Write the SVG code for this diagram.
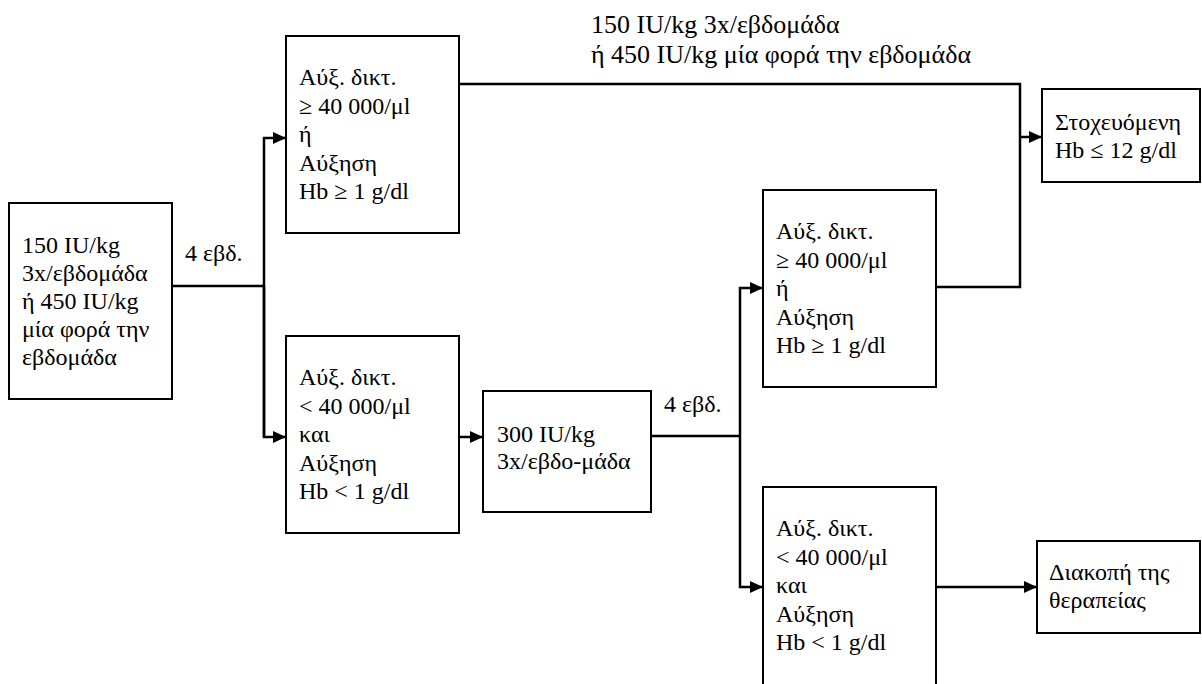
<svg xmlns="http://www.w3.org/2000/svg" width="1202" height="684" viewBox="0 0 1202 684">
<style>
.box{fill:#fff;stroke:#000;stroke-width:2}
.t{font-family:"Liberation Serif","Times New Roman",serif;font-size:24px;fill:#000}
.tt{font-family:"Liberation Serif","Times New Roman",serif;font-size:26px;fill:#000}
.c{fill:none;stroke:#000;stroke-width:2.5}
</style>
<defs>
<marker id="ah" viewBox="0 0 13 12" refX="13" refY="6" markerWidth="13" markerHeight="12" markerUnits="userSpaceOnUse" orient="auto">
<path d="M0,0 L13,6 L0,12 z" fill="#000"/>
</marker>
</defs>
<rect width="1202" height="684" fill="#fff"/>
<g id="connectors">
<polyline class="c" points="172,286 264,286"/>
<polyline class="c" points="264,437 264,138 286,138" marker-end="url(#ah)"/>
<polyline class="c" points="264,286 264,437 286,437" marker-end="url(#ah)"/>
<polyline class="c" points="459,437 483,437" marker-end="url(#ah)"/>
<polyline class="c" points="651,436 740,436"/>
<polyline class="c" points="740,436 740,288 763,288" marker-end="url(#ah)"/>
<polyline class="c" points="740,436 740,587 763,587" marker-end="url(#ah)"/>
<polyline class="c" points="936,587 1037,587" marker-end="url(#ah)"/>
<polyline class="c" points="459,84 1020,84 1020,287 936,287"/>
<polyline class="c" points="1020,137 1042,137" marker-end="url(#ah)"/>
<text class="t" x="185" y="261">4 εβδ.</text>
<text class="t" x="664" y="412">4 εβδ.</text>
<text class="tt" x="591" y="33">150 IU/kg 3x/εβδομάδα</text>
<text class="tt" x="591" y="63">ή 450 IU/kg μία φορά την εβδομάδα</text>
</g>
<g id="start">
<rect class="box" x="9" y="203" width="163" height="196"/>
<text class="t" x="22" y="253">150 IU/kg</text>
<text class="t" x="22" y="281">3x/εβδομάδα</text>
<text class="t" x="22" y="309">ή 450 IU/kg</text>
<text class="t" x="22" y="337">μία φορά την</text>
<text class="t" x="22" y="365">εβδομάδα</text>
</g>
<g id="resp1">
<rect class="box" x="286" y="36" width="173" height="197"/>
<text class="t" x="299" y="85">Αύξ. δικτ.</text>
<text class="t" x="299" y="113.5">≥ 40 000/μl</text>
<text class="t" x="299" y="142">ή</text>
<text class="t" x="299" y="170.5">Αύξηση</text>
<text class="t" x="299" y="199">Hb ≥ 1 g/dl</text>
</g>
<g id="noresp1">
<rect class="box" x="286" y="336" width="173" height="197"/>
<text class="t" x="299" y="385">Αύξ. δικτ.</text>
<text class="t" x="299" y="413.5">&lt; 40 000/μl</text>
<text class="t" x="299" y="442">και</text>
<text class="t" x="299" y="470.5">Αύξηση</text>
<text class="t" x="299" y="499">Hb &lt; 1 g/dl</text>
</g>
<g id="dose300">
<rect class="box" x="483" y="391" width="168" height="121"/>
<text class="t" x="497" y="442">300 IU/kg</text>
<text class="t" x="497" y="469">3x/εβδο-μάδα</text>
</g>
<g id="resp2">
<rect class="box" x="763" y="190" width="173" height="197"/>
<text class="t" x="776" y="239">Αύξ. δικτ.</text>
<text class="t" x="776" y="267.5">≥ 40 000/μl</text>
<text class="t" x="776" y="296">ή</text>
<text class="t" x="776" y="324.5">Αύξηση</text>
<text class="t" x="776" y="353">Hb ≥ 1 g/dl</text>
</g>
<g id="noresp2">
<rect class="box" x="763" y="487" width="173" height="210"/>
<text class="t" x="776" y="536">Αύξ. δικτ.</text>
<text class="t" x="776" y="564.5">&lt; 40 000/μl</text>
<text class="t" x="776" y="593">και</text>
<text class="t" x="776" y="621.5">Αύξηση</text>
<text class="t" x="776" y="650">Hb &lt; 1 g/dl</text>
</g>
<g id="target">
<rect class="box" x="1042" y="89" width="158" height="93"/>
<text class="t" x="1055" y="130">Στοχευόμενη</text>
<text class="t" x="1055" y="158">Hb ≤ 12 g/dl</text>
</g>
<g id="stop">
<rect class="box" x="1037" y="541" width="163" height="92"/>
<text class="t" x="1049" y="580">Διακοπή της</text>
<text class="t" x="1049" y="608">θεραπείας</text>
</g>
</svg>
